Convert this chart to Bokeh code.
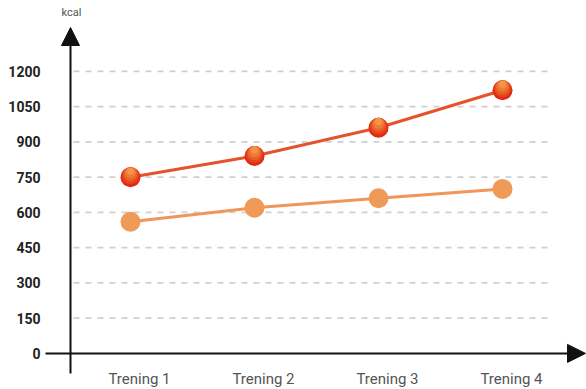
from bokeh.plotting import figure
from bokeh.models import Range1d, Arrow, NormalHead
from bokeh.core.properties import value
from bokeh.embed import file_html
from bokeh.resources import INLINE

# ---- data ----
categories = ["Trening 1", "Trening 2", "Trening 3", "Trening 4"]
series_red = [750, 840, 960, 1120]
series_orange = [560, 620, 660, 700]
y_ticks = [0, 150, 300, 450, 600, 750, 900, 1050, 1200]
y_unit = "kcal"

W, H = 586, 389
# layout helpers (pixel -> data)
X0_PX, X_STEP = 130.0, 124.0
Y0_PX, Y_SCALE = 352.9, 35.25 / 150.0

def xd(px):
    return (px - X0_PX) / X_STEP

def yd(py):
    return (Y0_PX - py) / Y_SCALE

def up(vals, px):
    return [v + px / Y_SCALE for v in vals]

p = figure(width=W, height=H, x_range=Range1d(xd(0), xd(W)), y_range=Range1d(yd(H), yd(0)),
           output_backend="svg", toolbar_location=None, min_border=0,
           x_axis_type=None, y_axis_type=None)
p.outline_line_color = None
p.grid.visible = False
p.background_fill_color = "white"
p.border_fill_color = "white"

# grid lines
grid_vals = [v for v in y_ticks if v > 0]
p.segment(x0=[xd(73)] * len(grid_vals), x1=[xd(553)] * len(grid_vals), y0=grid_vals, y1=grid_vals,
          line_color="#d0d0d0", line_width=1.8, line_dash="6 6")

# axes with arrows
p.add_layout(Arrow(end=NormalHead(size=18, fill_color="#111111", line_color="#111111", line_width=1),
                   x_start=xd(45), y_start=0, x_end=xd(585), y_end=0,
                   line_color="#111111", line_width=2))
p.add_layout(Arrow(end=NormalHead(size=18, fill_color="#111111", line_color="#111111", line_width=1),
                   x_start=xd(70), y_start=yd(373), x_end=xd(70), y_end=yd(27),
                   line_color="#111111", line_width=2))

xs = list(range(len(categories)))

# lines
p.line(xs, series_orange, line_color="#f0965a", line_width=3)
p.line(xs, series_red, line_color="#e4532a", line_width=3)

# orange markers
p.scatter(xs, series_orange, size=20, fill_color="#f09a58", line_color=None)

# red markers with faux vertical gradient (light top, deep red bottom)
p.scatter(xs, series_red, size=20, fill_color="#e02a14", line_color=None)
p.scatter(xs, up(series_red, 1.5), size=17, fill_color="#e6461f", line_color=None)
p.scatter(xs, up(series_red, 3.0), size=14, fill_color="#eb6229", line_color=None)
p.scatter(xs, up(series_red, 4.5), size=11, fill_color="#ef7c36", line_color=None)
p.scatter(xs, up(series_red, 6.0), size=7, fill_color="#f39548", line_color=None)

# y tick labels
p.text(x=[xd(40)] * len(y_ticks), y=y_ticks, text=[str(v) for v in y_ticks],
       text_align="right", text_baseline="middle", text_font=value("Roboto"),
       text_font_style="bold", text_font_size="14px", text_color="#222222")

# x category labels
p.text(x=xs, y=[yd(378)] * len(xs), text=categories, x_offset=9,
       text_align="center", text_baseline="middle", text_font=value("Roboto"),
       text_font_size="15px", text_color="#555555")

# unit label
p.text(x=[xd(71)], y=[yd(12)], text=[y_unit], text_align="center", text_baseline="middle",
       text_font=value("Roboto"), text_font_size="11px", text_color="#555555")

open("out.html", "w").write(file_html(p, INLINE))
